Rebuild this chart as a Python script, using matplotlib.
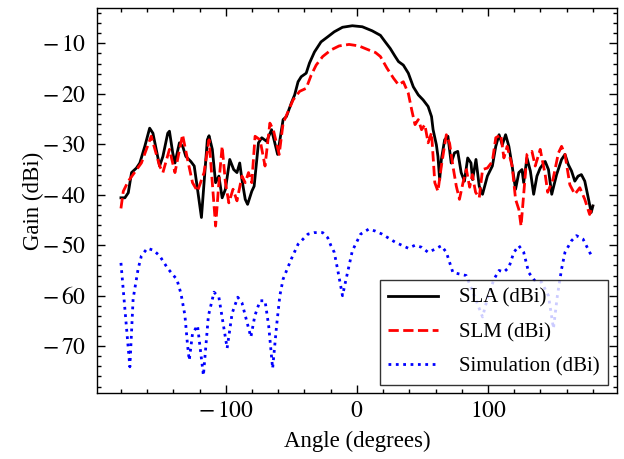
import numpy as np
import matplotlib
matplotlib.use("Agg")
import matplotlib.pyplot as plt
from matplotlib.ticker import AutoMinorLocator, FuncFormatter

# measured SLA pattern (angle in degrees, gain in dBi)
sla_angle = [-180, -177, -174.4, -171.9, -168.2, -165.6, -161.8, -158.1, -155.6, -153.1,
             -150.5, -148.0, -144.3, -143.0, -140.5, -138.8, -135.4, -132.9, -130.5, -126.7,
             -124.1, -121.6, -118.6, -116.6, -114.1, -112.8, -110.3, -107.8, -105.3, -102.8,
             -100.3, -97.0, -94.0, -91.5, -89.4, -87.7, -85.2, -83.4, -80.2, -78.4,
             -75.1, -72.6, -68.9, -65.1, -60.5, -56.3, -53.8, -50.0, -47.5, -44.9,
             -42.5, -38.7, -36.2, -32.4, -27.4, -22.3, -17.3, -11.0, -3.5, 4.1,
             11.6, 17.9, 21.6, 25.4, 29.2, 31.7, 35.4, 39.2, 43.0, 46.8,
             50.5, 54.3, 56.9, 58.1, 60.6, 61.8, 63.1, 64.4, 66.9, 69.4,
             71.9, 74.4, 76.9, 79.5, 82.0, 84.5, 87.0, 88.2, 90.8, 93.3,
             95.8, 99.5, 103.3, 105.9, 108.4, 110.9, 113.4, 115.9, 118.4, 121.0,
             123.5, 125.9, 127.2, 129.7, 132.3, 134.8, 137.3, 139.8, 143.6, 146.1,
             148.6, 152.3, 156.1, 158.7, 161.2, 163.7, 166.2, 168.7, 171.2, 173.8,
             176.2, 178.7, 180]
sla_gain = [-40.6, -40.6, -39.6, -35.6, -34.7, -33.7, -30.4, -26.8, -27.8, -31.0,
            -34.3, -32.4, -27.8, -27.4, -31.7, -33.7, -29.7, -30.4, -32.4, -33.4,
            -34.3, -38.9, -44.5, -37.6, -29.1, -28.3, -31.0, -37.6, -36.3, -40.6,
            -38.9, -33.0, -35.0, -35.6, -33.7, -37.0, -40.9, -41.9, -39.3, -38.3,
            -29.7, -28.7, -29.4, -27.1, -32.0, -25.1, -24.5, -21.8, -20.2, -17.6,
            -16.6, -15.9, -13.9, -11.7, -9.7, -8.7, -7.7, -6.8, -6.5, -6.7,
            -7.5, -8.4, -9.7, -11.0, -12.6, -13.6, -14.3, -15.9, -18.6, -20.2,
            -21.2, -22.5, -24.5, -27.1, -30.1, -32.4, -37.0, -33.0, -29.1, -28.4,
            -33.7, -31.7, -31.4, -35.6, -37.3, -32.7, -33.7, -37.0, -33.0, -38.3,
            -39.9, -36.3, -34.3, -30.4, -28.1, -30.1, -28.1, -30.4, -34.3, -38.9,
            -35.6, -35.0, -37.6, -32.7, -35.3, -39.9, -36.3, -34.7, -33.4, -35.0,
            -39.9, -36.0, -33.0, -32.0, -34.0, -35.3, -37.3, -36.3, -36.0, -37.3,
            -40.3, -43.5, -42.2]

# measured SLM pattern
slm_angle = [-180, -178.2, -174.4, -164.4, -160.6, -156.9, -150.5, -148.0, -143.0, -138.8,
             -133.0, -129.2, -125.4, -121.6, -116.6, -112.8, -107.8, -105.3, -102.8, -100.3,
             -97.7, -94.5, -91.5, -87.7, -85.2, -82.7, -80.2, -77.7, -73.9, -70.1,
             -66.4, -63.8, -59.3, -56.3, -48.7, -43.7, -38.7, -34.9, -31.1, -26.1,
             -19.8, -13.6, -6.0, 1.5, 9.0, 14.1, 17.9, 22.9, 27.9, 31.7,
             35.4, 39.2, 41.8, 44.3, 46.8, 49.3, 51.8, 54.3, 56.9, 59.4,
             61.8, 64.4, 68.2, 70.7, 73.2, 75.8, 78.2, 81.0, 83.5, 86.0,
             88.0, 90.5, 93.3, 95.8, 99.5, 103.3, 105.9, 109.7, 112.1, 114.6,
             118.4, 121.0, 123.5, 125.2, 129.7, 133.5, 136.0, 139.8, 143.6, 145.5,
             149.5, 153.7, 156.1, 158.7, 162.4, 166.2, 170.0, 173.8, 177.5, 180]
slm_gain = [-42.7, -39.3, -37.3, -33.7, -31.0, -28.4, -34.3, -35.6, -31.0, -35.6,
            -28.1, -33.0, -37.6, -39.3, -35.6, -29.1, -46.2, -37.6, -30.4, -37.6,
            -41.6, -38.9, -41.2, -36.3, -37.6, -35.6, -37.6, -28.4, -29.1, -34.3,
            -25.8, -27.1, -32.0, -25.8, -21.2, -19.5, -18.9, -16.3, -14.3, -12.6,
            -11.3, -10.5, -10.2, -10.5, -11.3, -11.8, -12.6, -14.9, -16.9, -18.2,
            -17.6, -19.9, -23.2, -26.1, -25.1, -27.1, -26.1, -29.7, -27.7, -37.6,
            -39.3, -34.3, -28.1, -29.8, -34.3, -38.3, -40.9, -37.5, -35.0, -38.5,
            -36.0, -39.5, -40.6, -35.0, -34.7, -33.4, -28.7, -28.1, -32.7, -30.4,
            -34.3, -40.9, -42.9, -46.2, -32.0, -31.4, -34.3, -31.0, -36.0, -39.5,
            -37.0, -31.7, -30.4, -32.0, -38.0, -39.9, -38.6, -40.9, -43.9, -42.2]

# simulated pattern
sim_angle = [-180, -173.2, -170.7, -166.9, -164.4, -159.9, -155.1, -150.5, -144.3, -137.3,
             -134.2, -131.2, -129.2, -127.9, -125.4, -121.6, -117.1, -113.3, -109.0, -105.3,
             -99.0, -95.2, -90.9, -87.7, -80.9, -77.9, -73.9, -70.1, -67.3, -64.3,
             -61.3, -58.8, -56.3, -50.0, -44.9, -37.4, -32.7, -26.1, -22.3, -19.8,
             -17.3, -14.8, -11.0, -8.5, -3.5, 2.8, 9.0, 14.1, 19.2, 29.2,
             39.2, 44.3, 49.3, 54.3, 59.4, 64.4, 68.2, 70.7, 73.2, 78.2,
             83.3, 89.5, 95.8, 100.1, 104.6, 108.4, 112.1, 115.9, 119.7, 123.5,
             127.2, 131.0, 135.6, 140.8, 146.1, 149.9, 152.9, 156.1, 158.7, 163.7,
             167.4, 172.5, 177.5, 180]
sim_gain = [-53.5, -74.1, -60.6, -54.7, -52.1, -50.6, -51.0, -52.1, -54.6, -56.8,
            -59.6, -63.9, -69.8, -72.8, -67.5, -65.9, -75.8, -64.0, -59.3, -60.3,
            -70.4, -63.5, -60.3, -61.4, -68.2, -64.0, -61.0, -61.0, -66.0, -74.4,
            -66.0, -60.0, -56.7, -52.7, -49.8, -47.8, -47.5, -47.5, -48.5, -50.1,
            -51.4, -54.7, -60.0, -57.0, -51.1, -47.8, -46.8, -47.2, -47.8, -49.4,
            -50.6, -50.0, -50.4, -51.4, -50.8, -50.1, -51.4, -53.4, -55.4, -55.7,
            -56.0, -60.0, -64.2, -60.0, -56.7, -55.0, -55.3, -54.4, -51.4, -50.1,
            -51.4, -55.4, -57.0, -57.3, -60.0, -66.5, -60.0, -54.7, -51.4, -49.1,
            -48.1, -48.8, -51.4, -52.5]

plt.rcParams['font.family'] = ['Liberation Serif', 'DejaVu Serif']
plt.rcParams['mathtext.fontset'] = 'stix'

fig = plt.figure(figsize=(6.24, 4.59), dpi=100)
ax = fig.add_axes([0.156, 0.144, 0.832, 0.838])

ax.plot(sla_angle, sla_gain, color='k', ls='-', lw=2, label='SLA (dBi)')
ax.plot(slm_angle, slm_gain, color='r', ls='--', lw=2, label='SLM (dBi)')
ax.plot(sim_angle, sim_gain, color='b', ls=':', lw=2, label='Simulation (dBi)')

ax.set_xlabel('Angle (degrees)', fontsize=16.5, labelpad=6)
ax.set_ylabel('Gain (dBi)', fontsize=16.5, labelpad=-1)
ax.set_xticks([-100, 0, 100])
ax.set_yticks([-70, -60, -50, -40, -30, -20, -10])
# latex-like tick labels with a wide minus
fmt = FuncFormatter(lambda v, p: '$%g$' % v if v >= 0 else '$-\\,%g$' % -v)
ax.xaxis.set_major_formatter(fmt)
ax.yaxis.set_major_formatter(fmt)
ax.xaxis.set_minor_locator(AutoMinorLocator(5))
ax.yaxis.set_minor_locator(AutoMinorLocator(5))
ax.tick_params(which='both', direction='in', top=True, right=True, labelsize=17)
ax.tick_params(which='major', length=6, width=1)
ax.tick_params(which='minor', length=3, width=1)
ax.tick_params(axis='y', which='major', pad=8)
ax.tick_params(axis='x', which='major', pad=6)
for s in ax.spines.values():
    s.set_linewidth(1)

leg = ax.legend(loc='lower right', fontsize=15, fancybox=False, edgecolor='k',
                framealpha=0.8, handlelength=2.4, handletextpad=1.0,
                labelspacing=0.7, borderaxespad=0.4)
leg.get_frame().set_linewidth(1)

fig.savefig('out.png', dpi=100)
